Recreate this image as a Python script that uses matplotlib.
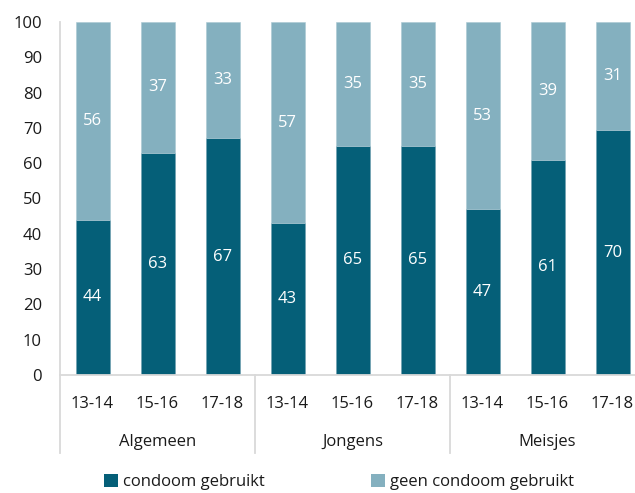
import matplotlib
matplotlib.use("Agg")
import matplotlib.pyplot as plt
import matplotlib.transforms as mtransforms
from matplotlib.patches import Patch
import numpy as np

plt.rcParams['font.family'] = ['Open Sans', 'DejaVu Sans']

groups = ["Algemeen", "Jongens", "Meisjes"]
ages = ["13-14", "15-16", "17-18"]
condoom = [44, 63, 67, 43, 65, 65, 47, 61, 70]
geen = [56, 37, 33, 57, 35, 35, 53, 39, 31]
series_names = ["condoom gebruikt", "geen condoom gebruikt"]

dark = "#055f78"
light = "#84b0bf"
grid_c = "#d9d9d9"
text_c = "#1a1a1a"

c = np.array(condoom, float)
g = np.array(geen, float)
tot = c + g
c_pct = c / tot * 100
g_pct = g / tot * 100

W, H = 635, 493
fig = plt.figure(figsize=(W / 100, H / 100), dpi=100)
ax = fig.add_axes([60 / W, (H - 375) / H, 585 / W, 353 / H])

x = np.arange(len(condoom))
bw = 34 / 65
ax.bar(x, c_pct, width=bw, color=dark, edgecolor="#6f9fb0", linewidth=0.4)
ax.bar(x, g_pct, bottom=c_pct, width=bw, color=light, edgecolor="#a9c8d3", linewidth=0.4)

for xi, cv, gv, cp, gp in zip(x, condoom, geen, c_pct, g_pct):
    ax.text(xi, cp / 2, str(cv), ha="center", va="center", color="white", fontsize=12)
    ax.text(xi, cp + gp / 2, str(gv), ha="center", va="center", color="white", fontsize=12)

ax.set_xlim(-0.5, len(condoom) - 0.5)
ax.set_ylim(0, 100)
ax.set_yticks(range(0, 101, 10))
ax.tick_params(axis="y", length=0, pad=13, labelsize=12, labelcolor=text_c)
ax.set_xticks(x)
ax.set_xticklabels(ages * 3)
ax.tick_params(axis="x", length=0, pad=15, labelsize=12, labelcolor=text_c)

for s in ["top", "right"]:
    ax.spines[s].set_visible(False)
ax.spines["left"].set_color(grid_c)
ax.spines["bottom"].set_color(grid_c)
ax.spines["left"].set_linewidth(1.3)
ax.spines["bottom"].set_linewidth(1.3)

trans = mtransforms.blended_transform_factory(ax.transData, ax.transAxes)
low = -78 / 353
for b in [-0.5, 2.5, 5.5]:
    ax.plot([b, b], [0, low], transform=trans, color=grid_c, lw=1.3, clip_on=False)

for i, gname in enumerate(groups):
    ax.text(3 * i + 1, -67 / 353, gname, transform=trans, ha="center", va="center",
            fontsize=12, color=text_c)

handles = [Patch(facecolor=dark), Patch(facecolor=light)]
fig.legend(handles, series_names, loc="center", bbox_to_anchor=(339 / W, 11 / H),
           ncol=2, frameon=False, fontsize=12, handlelength=0.8, handleheight=0.8,
           handletextpad=0.3, columnspacing=6.4, labelcolor=text_c)

fig.savefig("out.png", dpi=100)
